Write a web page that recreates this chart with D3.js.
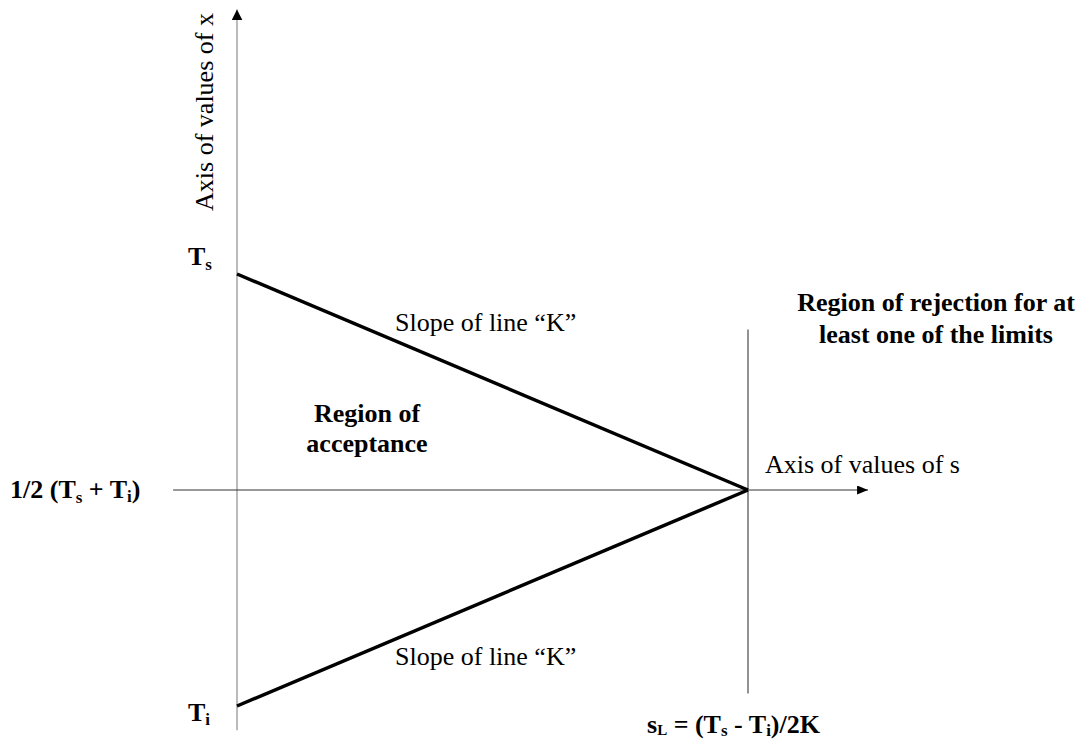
<!DOCTYPE html>
<html><head><meta charset="utf-8">
<script src="https://cdn.jsdelivr.net/npm/d3@7"></script>
<style>body{margin:0;background:#fff}svg{display:block}text{font-family:"Liberation Serif","Times New Roman",serif;fill:#000}</style>
</head><body>
<script>
// Model values (abstract units)
const Ts = 10, Ti = 2, K = 1;
const mid = (Ts + Ti) / 2;
const sL = (Ts - Ti) / (2 * K);
const upperLine = [{s: 0, x: Ts}, {s: sL, x: mid}];
const lowerLine = [{s: 0, x: Ti}, {s: sL, x: mid}];
const sAxisExtent = [-0.5, 4.94];
const xAxisExtent = [1.55, 14.9];
const limitExtent = [2.23, 8.97];

const W = 1084, H = 740;
const svg = d3.select("body").append("svg").attr("width", W).attr("height", H);
const sx = d3.scaleLinear().domain([0, sL]).range([237, 748]);
const sy = d3.scaleLinear().domain([Ti, Ts]).range([706, 274]);

const defs = svg.append("defs");
function marker(id, w, h) {
  defs.append("marker").attr("id", id).attr("viewBox", "0 0 10 10")
    .attr("refX", 10).attr("refY", 5).attr("markerWidth", w).attr("markerHeight", h)
    .attr("markerUnits", "userSpaceOnUse").attr("orient", "auto").attr("preserveAspectRatio", "none")
    .append("path").attr("d", "M0,0L10,5L0,10Z").attr("fill", "#000");
}
marker("arrV", 11, 11);
marker("arrH", 11, 9);

// vertical axis (x values)
svg.append("line").attr("x1", sx(0)).attr("x2", sx(0))
  .attr("y1", sy(xAxisExtent[0])).attr("y2", sy(xAxisExtent[1]))
  .attr("stroke", "#aaa").attr("stroke-width", 1.6).attr("marker-end", "url(#arrV)");
// horizontal axis (s values)
svg.append("line").attr("x1", sx(sAxisExtent[0])).attr("x2", sx(sAxisExtent[1]))
  .attr("y1", sy(mid)).attr("y2", sy(mid))
  .attr("stroke", "#333").attr("stroke-width", 1).attr("marker-end", "url(#arrH)");
// limit line at sL
svg.append("line").attr("x1", sx(sL)).attr("x2", sx(sL))
  .attr("y1", sy(limitExtent[0])).attr("y2", sy(limitExtent[1]))
  .attr("stroke", "#777").attr("stroke-width", 1.6);

const line = d3.line().x(d => sx(d.s)).y(d => sy(d.x));
[upperLine, lowerLine].forEach(l => svg.append("path").attr("d", line(l))
  .attr("fill", "none").attr("stroke", "#000").attr("stroke-width", 3.5));

const FS = 26, SUB = 17;
function label(x, y, parts, opts = {}) {
  const t = svg.append("text").attr("x", x).attr("y", y)
    .attr("font-size", FS).attr("font-weight", opts.bold ? "bold" : "normal")
    .attr("text-anchor", opts.anchor || "start");
  if (opts.rotate) t.attr("transform", `rotate(${opts.rotate},${x},${y})`);
  parts.forEach(p => {
    if (typeof p === "string") t.append("tspan").text(p);
    else t.append("tspan").attr("font-size", p.size || SUB).attr("dy", p.dy).text(p.t);
  });
  return t;
}
label(188, 265, ["T", {t: "s", dy: 5}], {bold: true});
label(188, 721, ["T", {t: "i", dy: 4}], {bold: true});
label(10, 498, ["1/2 (T", {t: "s", dy: 5}, {t: " + T", dy: -5, size: FS}, {t: "i", dy: 4}, {t: ")", dy: -4, size: FS}], {bold: true});
label(647, 733, ["s", {t: "L", dy: 2, size: 15}, {t: " = (T", dy: -2, size: FS}, {t: "s", dy: 3}, {t: " - T", dy: -3, size: FS}, {t: "i", dy: 3}, {t: ")/2K", dy: -3, size: FS}], {bold: true});
label(213, 112, ["Axis of values of x"], {rotate: -90, anchor: "middle"});
label(765, 473, ["Axis of values of s"]);
label(395, 331, ["Slope of line \u201CK\u201D"]);
label(395, 665, ["Slope of line \u201CK\u201D"]);
label(367, 422, ["Region of"], {bold: true, anchor: "middle"});
label(367, 452, ["acceptance"], {bold: true, anchor: "middle"});
label(936, 311, ["Region of rejection for at"], {bold: true, anchor: "middle"});
label(936, 343, ["least one of the limits"], {bold: true, anchor: "middle"});
</script>
</body></html>
